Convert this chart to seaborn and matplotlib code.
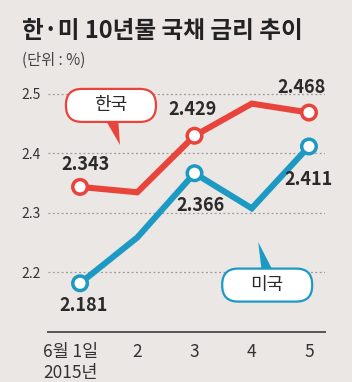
import numpy as np
import pandas as pd
import seaborn as sns
import matplotlib.pyplot as plt
import matplotlib.transforms as mtransforms
from matplotlib.patches import FancyBboxPatch, Polygon

# data
days = [1, 2, 3, 4, 5]
day_labels = ["6월 1일\n2015년", "2", "3", "4", "5"]
korea = [2.343, 2.334, 2.429, 2.483, 2.468]
usa = [2.181, 2.258, 2.366, 2.307, 2.411]
marked_days = [1, 3, 5]
yticks = [2.2, 2.3, 2.4, 2.5]

BG = "#ebe7e4"
RED = "#e8443b"
BLUE = "#1d9ac4"
DARK = "#2a2a2a"

df = pd.DataFrame({
    "day": days * 2,
    "rate": korea + usa,
    "country": ["한국"] * len(days) + ["미국"] * len(days),
})
pal = {"한국": RED, "미국": BLUE}

sns.set_theme(style="white")
plt.rcParams["font.family"] = ["Noto Sans CJK KR", "DejaVu Sans"]

fig = plt.figure(figsize=(3.52, 3.82), dpi=100, facecolor=BG)
ax = fig.add_axes([48 / 352, 1 - 331.5 / 382, 277 / 352, 251.5 / 382])
ax.set_facecolor(BG)

sns.lineplot(data=df, x="day", y="rate", hue="country", palette=pal,
             lw=4.4, legend=False, ax=ax, zorder=3, solid_joinstyle="miter")
mk = df[df["day"].isin(marked_days)]
sns.scatterplot(data=mk, x="day", y="rate", hue="country", palette=pal,
                s=110, linewidth=2.5, legend=False, ax=ax, zorder=4)
for coll in ax.collections:
    coll.set_facecolor("white")
    coll.set_edgecolor([pal[c] for c in mk["country"]])

# value labels
offsets = {
    ("한국", 1): (5, 22), ("한국", 3): (-2, 26), ("한국", 5): (-7, 25),
    ("미국", 1): (4, -22), ("미국", 3): (6, -32), ("미국", 5): (0, -33),
}
for _, r in mk.iterrows():
    dx, dy = offsets[(r["country"], r["day"])]
    ax.annotate(f"{r['rate']:.3f}", (r["day"], r["rate"]), xytext=(dx, dy),
                textcoords="offset pixels", ha="center", va="center",
                fontsize=13, fontweight="bold", color=DARK, zorder=7)

# callout boxes
def callout(x, y, text, color, tri):
    trans = mtransforms.Affine2D() + mtransforms.ScaledTranslation(x, y, ax.transData)
    ax.add_patch(Polygon(tri, closed=True, facecolor=color, edgecolor="none",
                         transform=trans, zorder=5, clip_on=False))
    ax.add_patch(FancyBboxPatch((-45, -16.5), 90, 33,
                                boxstyle="round,pad=0,rounding_size=16",
                                facecolor="white", edgecolor=color, lw=1.6,
                                transform=trans, zorder=6, clip_on=False))
    ax.text(0, 0, text, transform=trans, ha="center", va="center",
            fontsize=13, color=DARK, zorder=7)

callout(1.54, 2.480, "한국", RED, [(-8, -10), (7, -10), (9, -39.5)])
callout(4.27, 2.178, "미국", BLUE, [(-5, 10), (8, 10), (-9, 43)])

ax.set_xlim(0.44, 5.28)
ax.set_ylim(2.1, 2.5227)
ax.set_xticks(days)
ax.set_xticklabels([""] + day_labels[1:], fontsize=12.5, color="#333333")
# first tick label sits left of its tick in the reference
first = mtransforms.blended_transform_factory(ax.transData, ax.transAxes) + \
    mtransforms.ScaledTranslation(-37 / 100, -11 / 100, fig.dpi_scale_trans)
ax.text(days[0], 0, day_labels[0], transform=first, ha="left", va="top",
        fontsize=12.5, color="#333333", linespacing=1.25, multialignment="left")
ax.set_yticks(yticks)
ax.set_yticklabels([f"{v:.1f}" for v in yticks], fontsize=10, color="#333333")
ax.tick_params(axis="y", length=0, pad=5)
ax.tick_params(axis="x", direction="in", length=7, width=1.3, color="#555555", pad=8)
ax.yaxis.grid(True, linestyle=(0, (1.5, 2)), color="#999999", lw=0.9)
ax.xaxis.grid(False)
for s in ["top", "left", "right"]:
    ax.spines[s].set_visible(False)
ax.spines["bottom"].set_color("#555555")
ax.spines["bottom"].set_linewidth(1.4)
ax.set_xlabel("")
ax.set_ylabel("")

fig.text(22 / 352, 1 - 31 / 382, "한·미 10년물 국채 금리 추이", fontsize=17,
         fontweight="bold", color="#222222", va="center", ha="left")
fig.text(22 / 352, 1 - 60 / 382, "(단위 : %)", fontsize=11, color="#444444",
         va="center", ha="left")

fig.savefig("out.png", dpi=100, facecolor=BG)
